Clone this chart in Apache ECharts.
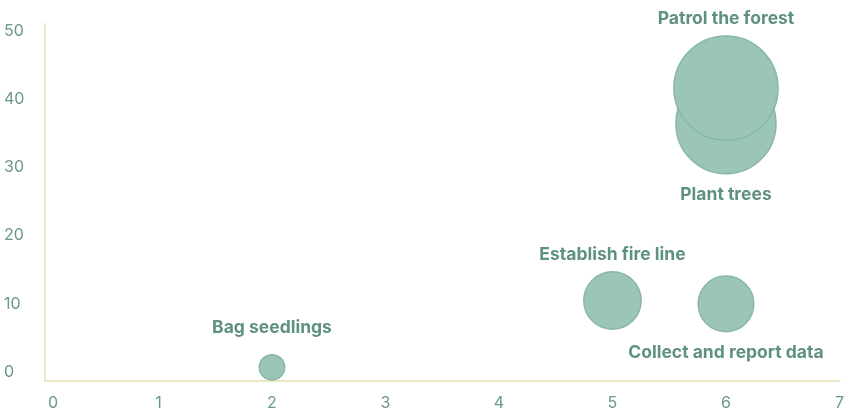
<!DOCTYPE html>
<html>
<head>
<meta charset="utf-8">
<script src="https://cdn.jsdelivr.net/npm/echarts@6/dist/echarts.min.js"></script>
<style>
html,body{margin:0;padding:0;background:#fff;}
#chart{width:847px;height:414px;}
</style>
</head>
<body>
<div id="chart"></div>
<script>
// Data
var tasks = ["Bag seedlings", "Establish fire line", "Collect and report data", "Plant trees", "Patrol the forest"];
var xValues = [2, 5, 6, 6, 6];
var yValues = [0.7, 10.5, 10, 36.4, 41.6];
var effort = [1, 5.1, 4.8, 15.5, 16.8];
var xTicks = [0, 1, 2, 3, 4, 5, 6, 7];
var yTicks = [0, 10, 20, 30, 40, 50];

// Label placement (style, not data)
var labelPlacement = {
  "Bag seedlings": ["top", 17],
  "Establish fire line": ["top", 7],
  "Collect and report data": ["bottom", 11],
  "Plant trees": ["bottom", 11],
  "Patrol the forest": ["top", 8]
};

var seriesData = tasks.map(function (t, i) {
  var p = labelPlacement[t];
  return {
    name: t,
    value: [xValues[i], yValues[i], effort[i]],
    label: { position: p[0], distance: p[1] }
  };
});

var axisColor = '#ece5c6';
var tickColor = '#6b9787';
var fontFam = 'Inter, "Noto Sans", sans-serif';

var chart = echarts.init(document.getElementById('chart'), null, { renderer: 'canvas' });
chart.setOption({
  animation: false,
  backgroundColor: '#ffffff',
  grid: { left: 45, right: 4, top: 24, bottom: 33, containLabel: false },
  xAxis: {
    type: 'value',
    min: 0, max: 7, interval: 1,
    axisLine: { show: true, onZero: false, lineStyle: { color: axisColor, width: 2 } },
    axisTick: { show: false },
    splitLine: { show: false },
    axisLabel: {
      customValues: xTicks,
      color: tickColor, fontSize: 16, fontFamily: fontFam, margin: 14,
      alignMinLabel: 'left',
      formatter: function (v) { return v === 0 ? '{first|0}' : String(v); },
      rich: { first: { padding: [0, 0, 0, 3], color: tickColor, fontSize: 16, fontFamily: fontFam } }
    }
  },
  yAxis: {
    type: 'value',
    min: -1.3, max: 51,
    axisLine: { show: true, onZero: false, lineStyle: { color: axisColor, width: 2 } },
    axisTick: { show: false, customValues: yTicks },
    splitLine: { show: false },
    axisLabel: {
      customValues: yTicks,
      color: tickColor, fontSize: 16, fontFamily: fontFam,
      align: 'left', margin: 41
    }
  },
  series: [{
    type: 'scatter',
    data: seriesData,
    symbolSize: function (v) { return 25.4 * Math.sqrt(v[2]); },
    itemStyle: { color: '#9cc5ba', borderColor: '#88b6a9', borderWidth: 1.5, opacity: 1 },
    label: {
      show: true,
      formatter: function (p) { return p.name; },
      color: '#5f9180', fontSize: 17.5, fontWeight: 'bold', fontFamily: fontFam
    },
    emphasis: { disabled: true }
  }]
});
</script>
</body>
</html>
